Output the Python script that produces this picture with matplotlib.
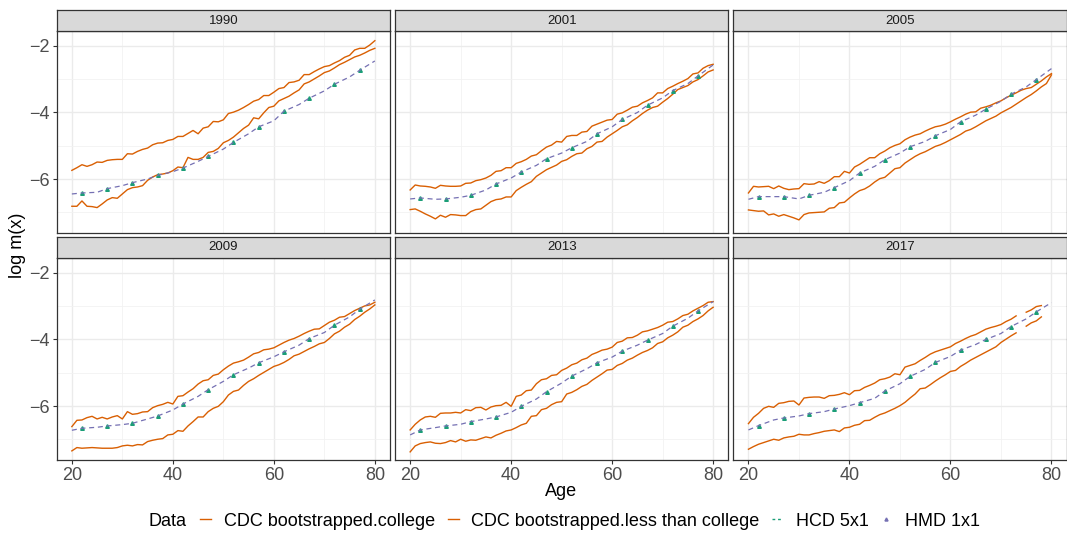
import numpy as np
import matplotlib
matplotlib.use('Agg')
import matplotlib.pyplot as plt
from matplotlib.lines import Line2D

plt.rcParams['font.family'] = ['Liberation Sans', 'DejaVu Sans']

ages = np.arange(20, 81)
hmd_ages = [20, 22, 25, 27, 30, 32, 35, 37, 40, 42, 45, 47, 50, 52, 55, 57, 60, 62, 65, 67, 70, 72, 75, 77, 80]
hcd_ages = [22, 27, 32, 37, 42, 47, 52, 57, 62, 67, 72, 77]
nan = np.nan

# CDC bootstrapped, less than college (upper curves)
less_1990 = [-5.74, -5.66, -5.57, -5.62, -5.57, -5.49, -5.50, -5.44, -5.42, -5.41,
             -5.41, -5.24, -5.25, -5.17, -5.11, -5.07, -4.97, -4.92, -4.91, -4.84,
             -4.81, -4.72, -4.72, -4.63, -4.54, -4.64, -4.47, -4.43, -4.27, -4.28,
             -4.22, -4.03, -3.99, -3.93, -3.85, -3.76, -3.66, -3.61, -3.49, -3.49,
             -3.39, -3.28, -3.25, -3.10, -3.08, -3.03, -2.86, -2.86, -2.77, -2.69,
             -2.62, -2.59, -2.51, -2.44, -2.34, -2.28, -2.12, -2.07, -2.07, -1.97,
             -1.84]
less_2001 = [-6.33, -6.18, -6.21, -6.22, -6.24, -6.28, -6.19, -6.21, -6.22, -6.22,
             -6.21, -6.13, -6.12, -6.05, -6.02, -5.97, -5.89, -5.77, -5.75, -5.66,
             -5.66, -5.53, -5.48, -5.41, -5.31, -5.27, -5.15, -5.04, -4.98, -4.87,
             -4.89, -4.72, -4.69, -4.69, -4.59, -4.57, -4.41, -4.35, -4.29, -4.23,
             -4.21, -4.05, -4.01, -3.93, -3.84, -3.81, -3.71, -3.64, -3.56, -3.41,
             -3.41, -3.28, -3.21, -3.13, -3.06, -2.98, -2.84, -2.81, -2.67, -2.59,
             -2.55]
less_2005 = [-6.42, -6.22, -6.24, -6.23, -6.22, -6.29, -6.21, -6.28, -6.32, -6.30,
             -6.29, -6.14, -6.16, -6.15, -6.08, -6.13, -6.05, -5.93, -5.93, -5.77,
             -5.82, -5.64, -5.56, -5.46, -5.36, -5.36, -5.24, -5.16, -5.06, -4.99,
             -4.94, -4.82, -4.74, -4.68, -4.64, -4.56, -4.49, -4.43, -4.40, -4.35,
             -4.28, -4.20, -4.13, -4.05, -3.99, -3.98, -3.87, -3.83, -3.78, -3.71,
             -3.65, -3.56, -3.48, -3.41, -3.33, -3.28, -3.25, -3.15, -3.05, -2.93,
             -2.83]
less_2009 = [-6.62, -6.43, -6.42, -6.35, -6.31, -6.39, -6.34, -6.39, -6.33, -6.29,
             -6.39, -6.17, -6.25, -6.23, -6.18, -6.17, -6.05, -5.99, -5.95, -5.89,
             -5.94, -5.71, -5.69, -5.58, -5.48, -5.34, -5.24, -5.21, -5.08, -5.04,
             -4.91, -4.80, -4.71, -4.67, -4.62, -4.53, -4.43, -4.39, -4.31, -4.29,
             -4.25, -4.17, -4.09, -4.02, -3.97, -3.90, -3.82, -3.75, -3.69, -3.68,
             -3.58, -3.48, -3.42, -3.33, -3.31, -3.22, -3.13, -3.06, -2.99, -2.96,
             -2.88]
less_2013 = [-6.72, -6.55, -6.42, -6.33, -6.31, -6.34, -6.22, -6.21, -6.21, -6.19,
             -6.21, -6.11, -6.14, -6.05, -6.04, -6.12, -6.03, -5.99, -5.98, -5.89,
             -6.01, -5.71, -5.67, -5.54, -5.52, -5.33, -5.21, -5.18, -5.08, -5.06,
             -4.93, -4.86, -4.76, -4.71, -4.61, -4.56, -4.45, -4.39, -4.32, -4.29,
             -4.23, -4.09, -4.05, -3.95, -3.94, -3.87, -3.77, -3.74, -3.69, -3.64,
             -3.57, -3.48, -3.46, -3.38, -3.28, -3.24, -3.14, -3.06, -2.98, -2.88,
             -2.86]
less_2017 = [-6.53, -6.34, -6.22, -6.07, -6.01, -6.04, -5.92, -5.90, -5.86, -5.85,
             -5.97, -5.76, -5.74, -5.73, -5.73, -5.77, -5.69, -5.68, -5.65, -5.60,
             -5.66, -5.54, -5.53, -5.44, -5.38, -5.31, -5.21, -5.18, -5.13, -5.03,
             -5.06, -4.83, -4.78, -4.73, -4.63, -4.54, -4.44, -4.37, -4.32, -4.27,
             -4.22, -4.12, -4.05, -3.97, -3.90, -3.85, -3.77, -3.69, -3.64, -3.60,
             -3.55, -3.46, -3.39, -3.29, nan, -3.18, -3.11, -3.01, -2.98, nan,
             nan]

# CDC bootstrapped, college (lower curves)
college_1990 = [-6.82, -6.82, -6.66, -6.82, -6.83, -6.86, -6.75, -6.63, -6.56, -6.58,
                -6.45, -6.32, -6.26, -6.24, -6.20, -6.04, -5.94, -5.87, -5.85, -5.82,
                -5.75, -5.64, -5.66, -5.35, -5.41, -5.41, -5.35, -5.20, -5.17, -5.08,
                -4.91, -4.84, -4.74, -4.61, -4.48, -4.38, -4.16, -4.19, -4.01, -3.85,
                -3.81, -3.65, -3.58, -3.51, -3.41, -3.32, -3.14, -3.08, -2.99, -2.90,
                -2.80, -2.75, -2.66, -2.56, -2.49, -2.41, -2.33, -2.28, -2.21, -2.13,
                -2.07]
college_2001 = [-6.92, -6.90, -6.97, -7.05, -7.12, -7.20, -7.09, -7.15, -7.07, -7.08,
                -7.10, -7.10, -6.98, -6.92, -6.90, -6.79, -6.68, -6.62, -6.60, -6.54,
                -6.54, -6.35, -6.25, -6.16, -6.08, -5.92, -5.82, -5.72, -5.65, -5.58,
                -5.47, -5.42, -5.32, -5.24, -5.22, -5.09, -5.02, -4.89, -4.87, -4.74,
                -4.64, -4.54, -4.43, -4.37, -4.25, -4.15, -4.03, -3.93, -3.85, -3.81,
                -3.69, -3.58, -3.45, -3.31, -3.25, -3.19, -3.08, -3.01, -2.90, -2.78,
                -2.72]
college_2005 = [-6.93, -6.95, -6.97, -6.96, -7.08, -7.05, -7.12, -7.07, -7.12, -7.17,
                -7.23, -7.07, -7.02, -7.01, -7.00, -6.99, -6.88, -6.86, -6.72, -6.70,
                -6.57, -6.45, -6.35, -6.30, -6.21, -6.09, -5.99, -5.95, -5.82, -5.69,
                -5.66, -5.52, -5.42, -5.32, -5.24, -5.18, -5.10, -5.02, -4.97, -4.90,
                -4.82, -4.74, -4.66, -4.56, -4.51, -4.43, -4.34, -4.25, -4.18, -4.11,
                -4.01, -3.93, -3.85, -3.75, -3.65, -3.55, -3.46, -3.35, -3.23, -3.13,
                -2.87]
college_2009 = [-7.35, -7.25, -7.27, -7.26, -7.25, -7.26, -7.27, -7.27, -7.27, -7.25,
                -7.20, -7.18, -7.20, -7.16, -7.17, -7.07, -7.03, -7.00, -6.98, -6.87,
                -6.85, -6.74, -6.76, -6.60, -6.47, -6.33, -6.33, -6.17, -6.07, -6.01,
                -5.87, -5.67, -5.56, -5.52, -5.38, -5.26, -5.18, -5.08, -4.99, -4.90,
                -4.81, -4.76, -4.69, -4.60, -4.49, -4.44, -4.36, -4.28, -4.21, -4.13,
                -4.09, -3.97, -3.83, -3.75, -3.63, -3.54, -3.40, -3.30, -3.18, -3.08,
                -2.96]
college_2013 = [-7.38, -7.20, -7.13, -7.10, -7.08, -7.12, -7.13, -7.10, -7.04, -7.08,
                -7.00, -7.06, -7.02, -7.03, -6.98, -6.93, -6.96, -6.88, -6.82, -6.75,
                -6.72, -6.65, -6.57, -6.52, -6.31, -6.29, -6.11, -6.07, -5.96, -5.89,
                -5.87, -5.64, -5.59, -5.51, -5.41, -5.35, -5.23, -5.13, -5.03, -4.92,
                -4.90, -4.78, -4.72, -4.62, -4.56, -4.47, -4.39, -4.33, -4.25, -4.12,
                -4.07, -3.95, -3.87, -3.77, -3.63, -3.57, -3.46, -3.38, -3.28, -3.14,
                -3.03]
college_2017 = [-7.30, -7.22, -7.15, -7.10, -7.05, -7.00, -7.03, -6.96, -6.93, -6.91,
                -6.85, -6.87, -6.87, -6.83, -6.80, -6.76, -6.74, -6.72, -6.77, -6.66,
                -6.64, -6.58, -6.55, -6.44, -6.43, -6.34, -6.26, -6.21, -6.14, -6.07,
                -5.99, -5.89, -5.76, -5.64, -5.48, -5.46, -5.36, -5.25, -5.15, -5.06,
                -4.96, -4.93, -4.81, -4.72, -4.62, -4.54, -4.46, -4.38, -4.30, -4.22,
                -4.09, -3.99, -3.89, -3.80, nan, -3.60, -3.50, -3.44, -3.32, nan,
                nan]

# HMD 1x1 (dashed line), read at hmd_ages
hmd_1990 = [-6.45, -6.42, -6.40, -6.29, -6.20, -6.11, -6.00, -5.89, -5.78, -5.67, -5.47, -5.32, -5.10,
            -4.90, -4.64, -4.43, -4.25, -3.96, -3.76, -3.57, -3.35, -3.15, -2.93, -2.73, -2.45]
hmd_2001 = [-6.60, -6.57, -6.61, -6.60, -6.55, -6.49, -6.33, -6.15, -5.97, -5.79, -5.59, -5.39, -5.22,
            -5.06, -4.87, -4.64, -4.43, -4.21, -4.00, -3.78, -3.56, -3.34, -3.13, -2.90, -2.57]
hmd_2005 = [-6.61, -6.53, -6.53, -6.53, -6.60, -6.49, -6.40, -6.26, -6.05, -5.82, -5.62, -5.42, -5.22,
            -5.03, -4.87, -4.70, -4.51, -4.28, -4.08, -3.90, -3.66, -3.45, -3.23, -3.01, -2.68]
hmd_2009 = [-6.73, -6.67, -6.64, -6.60, -6.56, -6.52, -6.39, -6.30, -6.12, -5.94, -5.71, -5.51, -5.26,
            -5.06, -4.86, -4.70, -4.52, -4.37, -4.17, -3.97, -3.79, -3.57, -3.32, -3.09, -2.81]
hmd_2013 = [-6.87, -6.72, -6.65, -6.60, -6.55, -6.47, -6.39, -6.33, -6.19, -6.01, -5.79, -5.57, -5.31,
            -5.10, -4.88, -4.70, -4.53, -4.35, -4.17, -4.02, -3.82, -3.60, -3.36, -3.14, -2.86]
hmd_2017 = [-6.72, -6.59, -6.42, -6.36, -6.30, -6.23, -6.17, -6.09, -5.99, -5.90, -5.77, -5.55, -5.33,
            -5.11, -4.90, -4.69, -4.51, -4.32, -4.15, -4.00, -3.82, -3.61, -3.38, -3.17, -2.89]

# HCD 5x1 (triangles), at hcd_ages
hcd_1990 = [-6.42, -6.29, -6.11, -5.89, -5.67, -5.32, -4.90, -4.43, -3.96, -3.57, -3.15, -2.73]
hcd_2001 = [-6.57, -6.60, -6.49, -6.15, -5.79, -5.39, -5.06, -4.64, -4.21, -3.78, -3.34, -2.90]
hcd_2005 = [-6.53, -6.53, -6.49, -6.26, -5.82, -5.42, -5.03, -4.70, -4.28, -3.90, -3.45, -3.01]
hcd_2009 = [-6.67, -6.60, -6.52, -6.30, -5.94, -5.51, -5.06, -4.70, -4.37, -3.97, -3.57, -3.09]
hcd_2013 = [-6.72, -6.60, -6.47, -6.33, -6.01, -5.57, -5.10, -4.70, -4.35, -4.02, -3.60, -3.14]
hcd_2017 = [-6.59, -6.36, -6.23, -6.09, -5.90, -5.55, -5.11, -4.69, -4.32, -4.00, -3.61, -3.17]

years = ['1990', '2001', '2005', '2009', '2013', '2017']
less = [less_1990, less_2001, less_2005, less_2009, less_2013, less_2017]
college = [college_1990, college_2001, college_2005, college_2009, college_2013, college_2017]
hmd = [hmd_1990, hmd_2001, hmd_2005, hmd_2009, hmd_2013, hmd_2017]
hcd = [hcd_1990, hcd_2001, hcd_2005, hcd_2009, hcd_2013, hcd_2017]

orange = '#D95F02'
green = '#1B9E77'
purple = '#7570B3'
border = '#333333'

W, H = 1067, 534
fig = plt.figure(figsize=(W / 100, H / 100), dpi=100)

col_left = [56.7, 395.0, 733.3]
row_top = [30.7, 257.7]
panel_w = 333.3
panel_h = 202.5
strip_h = 20.4

for i, yr in enumerate(years):
    r, c = divmod(i, 3)
    x0, y0 = col_left[c], row_top[r]
    ax = fig.add_axes([x0 / W, 1 - (y0 + panel_h) / H, panel_w / W, panel_h / H])
    ax.plot(ages, college[i], color=orange, lw=1.0, zorder=3)
    ax.plot(ages, less[i], color=orange, lw=1.0, zorder=3)
    ax.plot(hcd_ages, hcd[i], ls='none', marker='^', ms=2.6, color=green, zorder=4)
    ax.plot(hmd_ages, hmd[i], color=purple, lw=0.9, dashes=(4, 3), zorder=5)

    ax.set_xlim(17, 83)
    ax.set_ylim(-7.63, -1.54)
    ax.set_xticks([20, 40, 60, 80])
    ax.set_xticks([30, 50, 70], minor=True)
    ax.set_yticks([-6, -4, -2])
    ax.set_yticks([-7, -5, -3], minor=True)
    ax.grid(True, which='major', color='#EBEBEB', lw=1.0)
    ax.grid(True, which='minor', color='#F2F2F2', lw=0.6)
    ax.set_axisbelow(True)
    for s in ax.spines.values():
        s.set_color(border)
        s.set_linewidth(0.9)
    ax.tick_params(which='minor', length=0)
    ax.tick_params(axis='x', which='major', length=2.75 if r == 1 else 0, width=0.8,
                   color=border, pad=2.2, labelsize=13, labelcolor='#4D4D4D', labelbottom=(r == 1))
    ax.tick_params(axis='y', which='major', length=2.75 if c == 0 else 0, width=0.8,
                   color=border, pad=2.2, labelsize=13, labelcolor='#4D4D4D', labelleft=(c == 0))

    sax = fig.add_axes([x0 / W, 1 - y0 / H, panel_w / W, strip_h / H])
    sax.set_facecolor('#D9D9D9')
    sax.set_xticks([])
    sax.set_yticks([])
    for s in sax.spines.values():
        s.set_color(border)
        s.set_linewidth(0.9)
    sax.text(0.5, 0.5, yr, ha='center', va='center', fontsize=9.5, color='#1A1A1A',
             transform=sax.transAxes)

fig.text(18 / W, 1 - 245 / H, 'log m(x)', rotation=90, ha='center', va='center', fontsize=13)
fig.text(561 / W, 1 - 491 / H, 'Age', ha='center', va='center', fontsize=13)

handles = [
    Line2D([], [], color=orange, lw=1.0),
    Line2D([], [], color=orange, lw=1.0),
    Line2D([], [], color=green, lw=1.0, dashes=(2, 2)),
    Line2D([], [], color=purple, ls='none', marker='^', ms=2.2),
]
labels = ['CDC bootstrapped.college', 'CDC bootstrapped.less than college', 'HCD 5x1', 'HMD 1x1']
fig.text(149 / W, 1 - 521 / H, 'Data', ha='left', va='center', fontsize=13)
fig.legend(handles, labels, loc='center', bbox_to_anchor=(590 / W, 1 - 521 / H), ncol=4,
           frameon=False, fontsize=13, handlelength=0.6, handletextpad=0.7,
           columnspacing=0.7, borderpad=0, borderaxespad=0)

fig.savefig('out.png', dpi=100)
